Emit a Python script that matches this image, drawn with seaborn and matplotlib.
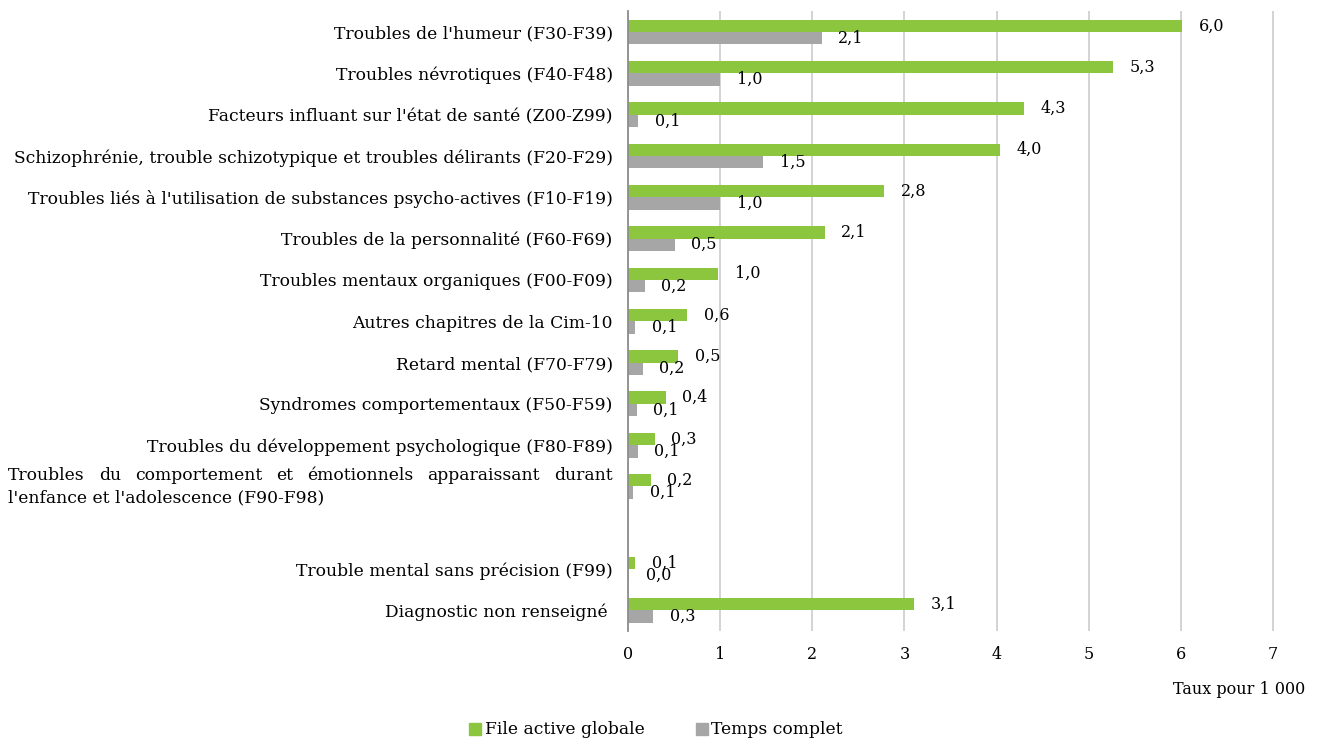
import matplotlib
matplotlib.use("Agg")
import matplotlib.pyplot as plt
import seaborn as sns
import pandas as pd
import numpy as np
from matplotlib.patches import Patch

LONG = ("Troubles du comportement et émotionnels apparaissant durant "
        "l'enfance et l'adolescence (F90-F98)")
categories = [
    "Troubles de l'humeur (F30-F39)",
    "Troubles névrotiques (F40-F48)",
    "Facteurs influant sur l'état de santé (Z00-Z99)",
    "Schizophrénie, trouble schizotypique et troubles délirants (F20-F29)",
    "Troubles liés à l'utilisation de substances psycho-actives (F10-F19)",
    "Troubles de la personnalité (F60-F69)",
    "Troubles mentaux organiques (F00-F09)",
    "Autres chapitres de la Cim-10",
    "Retard mental (F70-F79)",
    "Syndromes comportementaux (F50-F59)",
    "Troubles du développement psychologique (F80-F89)",
    LONG,
    " ",
    "Trouble mental sans précision (F99)",
    "Diagnostic non renseigné ",
]
file_active = [6.01, 5.265, 4.30, 4.035, 2.78, 2.135, 0.98, 0.645, 0.545, 0.41,
               0.29, 0.245, np.nan, 0.075, 3.10]
temps_complet = [2.10, 1.00, 0.11, 1.47, 1.00, 0.505, 0.18, 0.075, 0.16, 0.095,
                 0.105, 0.055, np.nan, 0.01, 0.275]
series = ["File active globale", "Temps complet"]
GREEN = "#8cc63f"
GRAY = "#a6a6a6"

df = pd.DataFrame({"categorie": categories,
                   series[0]: file_active,
                   series[1]: temps_complet})
long_df = df.melt(id_vars="categorie", var_name="serie", value_name="taux").dropna()

sns.set_style("white")
plt.rcParams["font.family"] = ["DejaVu Serif"]
plt.rcParams["text.color"] = "black"
plt.rcParams["xtick.color"] = "black"
plt.rcParams["ytick.color"] = "black"
FS = 12.3
FSN = 11.5

W, H = 1321, 740
fig = plt.figure(figsize=(W / 100, H / 100), dpi=100)
ax = fig.add_axes([628 / W, 1 - 631 / H, 646 / W, (631 - 11.4) / H])

sns.barplot(data=long_df, y="categorie", x="taux", hue="serie",
            order=categories, hue_order=series, palette=[GREEN, GRAY],
            orient="h", width=0.6, gap=0, saturation=1, errorbar=None,
            legend=False, linewidth=0, ax=ax)

ax.set_xlim(0, 7.01)
ax.set_ylim(14.5, -0.5)
ax.set_xticks(range(8))
ax.set_xticklabels([str(i) for i in range(8)], fontsize=FSN)
ax.set_yticks(range(len(categories)))
ax.set_yticklabels(["" if c == LONG else c for c in categories], fontsize=FS)
ax.tick_params(axis="both", length=0)
ax.tick_params(axis="y", pad=11)
ax.tick_params(axis="x", pad=11)
ax.set_xlabel("")
ax.set_ylabel("")
ax.grid(axis="x", color="#c8c8c8", lw=1.1)
ax.set_axisbelow(True)
for s in ["top", "right", "bottom"]:
    ax.spines[s].set_visible(False)
ax.spines["left"].set_color("#8c8c8c")
ax.spines["left"].set_linewidth(1.3)
ax.spines["left"].set_zorder(5)

for cont in ax.containers:
    ax.bar_label(cont, fmt=lambda v: f"{v:.1f}".replace(".", ","),
                 padding=12, fontsize=FSN)

fig.text(1305 / W, 1 - 690 / H, "Taux pour 1 000", ha="right", va="center",
         fontsize=FSN)

fig.legend(handles=[Patch(color=GREEN, label=series[0]),
                    Patch(color=GRAY, label=series[1])],
           loc="center", bbox_to_anchor=(656 / W, 1 - 730 / H), ncol=2,
           frameon=False, handlelength=0.7, handleheight=0.7,
           handletextpad=0.2, columnspacing=3.0, fontsize=FS)

# justified two-line label
fig.canvas.draw()
r = fig.canvas.get_renderer()
right_px = max(t.get_window_extent(r).x1 for t in ax.get_yticklabels() if t.get_text().strip())
left_px = 8
line1 = "Troubles du comportement et émotionnels apparaissant durant"
line2 = "l'enfance et l'adolescence (F90-F98)"
y1 = 1 - 475 / H
y2 = 1 - 498 / H
words = line1.split()
objs = [fig.text(0, y1, w, ha="left", va="center", fontsize=FS) for w in words]
widths = [o.get_window_extent(r).width for o in objs]
gapw = (right_px - left_px - sum(widths)) / (len(words) - 1)
x = left_px
for o, w in zip(objs, widths):
    o.set_x(x / W)
    x += w + gapw
fig.text(left_px / W, y2, line2, ha="left", va="center", fontsize=FS)

fig.savefig("out.png", dpi=100)
